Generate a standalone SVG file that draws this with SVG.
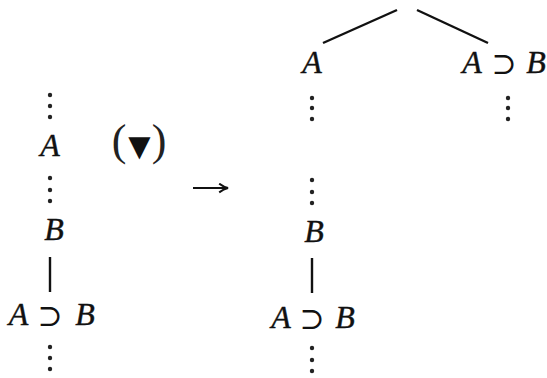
<svg xmlns="http://www.w3.org/2000/svg" width="547" height="378" viewBox="0 0 547 378">
<style>
.f{font-family:"Liberation Serif","DejaVu Serif",serif;font-style:italic;font-size:32px;fill:#111;stroke:#111;stroke-width:0.4;text-anchor:middle}
.op{font-family:"DejaVu Serif","Liberation Serif",serif;font-size:30px;fill:#111;text-anchor:middle}
.par{font-family:"Liberation Serif",serif;font-size:44px;fill:#222;text-anchor:middle}
.tri{font-family:"DejaVu Sans",sans-serif;font-size:29px;fill:#111;text-anchor:middle}
.ln{stroke:#111;stroke-width:2.4;fill:none;stroke-linecap:butt}
.dot{fill:#222}
</style>
<defs>
<marker id="ah" viewBox="0 0 10 10" refX="9" refY="5" markerWidth="11" markerHeight="11" markerUnits="userSpaceOnUse" orient="auto">
<path d="M1,1 Q5,4 9,5 Q5,6 1,9" fill="none" stroke="#111" stroke-width="1.8"/>
</marker>
</defs>
<rect width="547" height="378" fill="#fff"/>
<g id="connectors">
<line class="ln" x1="323" y1="43" x2="397" y2="10"/>
<line class="ln" x1="417" y1="10" x2="488" y2="43"/>
<line class="ln" x1="50" y1="257" x2="50" y2="292"/>
<line class="ln" x1="312" y1="258" x2="312" y2="293"/>
<path d="M193,188 H228" stroke="#111" stroke-width="2" fill="none" marker-end="url(#ah)"/>
<g class="dot">
<circle cx="50" cy="95" r="2.2"/><circle cx="50" cy="106" r="2.2"/><circle cx="50" cy="117" r="2.2"/>
<circle cx="50" cy="178" r="2.2"/><circle cx="50" cy="190" r="2.2"/><circle cx="50" cy="201" r="2.2"/>
<circle cx="50" cy="347" r="2.2"/><circle cx="50" cy="358" r="2.2"/><circle cx="50" cy="369" r="2.2"/>
<circle cx="312" cy="98" r="2.2"/><circle cx="312" cy="108" r="2.2"/><circle cx="312" cy="119" r="2.2"/>
<circle cx="508" cy="98" r="2.2"/><circle cx="508" cy="108" r="2.2"/><circle cx="508" cy="119" r="2.2"/>
<circle cx="312" cy="180" r="2.2"/><circle cx="312" cy="192" r="2.2"/><circle cx="312" cy="203" r="2.2"/>
<circle cx="312" cy="348" r="2.2"/><circle cx="312" cy="360" r="2.2"/><circle cx="312" cy="371" r="2.2"/>
</g>
</g>
<g id="left-A"><text class="f" x="50" y="156">A</text></g>
<g id="left-B"><text class="f" x="54" y="240">B</text></g>
<g id="left-AimpB"><text class="f" x="18.5" y="325">A</text><text class="op" x="50" y="326">⊃</text><text class="f" x="85" y="325">B</text></g>
<g id="rule-label"><text class="par" x="119" y="155">(</text><text class="tri" x="139.5" y="156">▼</text><text class="par" x="159" y="155">)</text></g>
<g id="top-A"><text class="f" x="312" y="73">A</text></g>
<g id="top-AimpB"><text class="f" x="472" y="73">A</text><text class="op" x="504" y="74">⊃</text><text class="f" x="536" y="73">B</text></g>
<g id="right-B"><text class="f" x="314" y="242">B</text></g>
<g id="right-AimpB"><text class="f" x="281" y="328">A</text><text class="op" x="312" y="329">⊃</text><text class="f" x="345" y="328">B</text></g>
</svg>
